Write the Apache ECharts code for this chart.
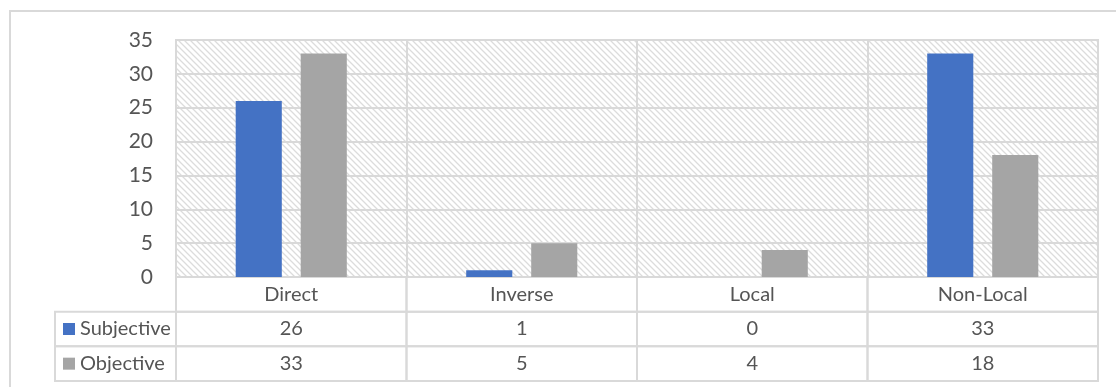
<!DOCTYPE html>
<html>
<head>
<meta charset="utf-8">
<script src="https://cdn.jsdelivr.net/npm/echarts@6/dist/echarts.min.js"></script>
<style>
  html, body { margin: 0; padding: 0; background: #ffffff; }
  #chart { width: 1116px; height: 387px; }
</style>
</head>
<body>
<div id="chart"></div>
<script>
// Chart data
const categories = ['Direct', 'Inverse', 'Local', 'Non-Local'];
const seriesNames = ['Subjective', 'Objective'];
const subjective = [26, 1, 0, 33];
const objective = [33, 5, 4, 18];
const yTicks = [0, 5, 10, 15, 20, 25, 30, 35];

const seriesColors = ['#4472C4', '#A5A5A5'];
const seriesValues = [subjective, objective];
const lineColor = '#d9d9d9';
const textColor = '#555555';
const fontFamily = 'Lato, "Open Sans", sans-serif';

// Diagonal hatch tile for the plot background
function hatchTile() {
  const c = document.createElement('canvas');
  const s = 6;
  c.width = s; c.height = s;
  const ctx = c.getContext('2d');
  ctx.fillStyle = '#ffffff';
  ctx.fillRect(0, 0, s, s);
  ctx.strokeStyle = '#dcdcdc';
  ctx.lineWidth = 1.3;
  ctx.beginPath();
  ctx.moveTo(-1, -1); ctx.lineTo(s + 1, s + 1);
  ctx.moveTo(-1 - s, -1); ctx.lineTo(1, s + 1);
  ctx.moveTo(s - 1, -1); ctx.lineTo(2 * s + 1, s + 1);
  ctx.stroke();
  return c;
}

// Table cells: header row with category names, then one row per series
const tableCells = [];
categories.forEach((name, i) => {
  tableCells.push([i, 0, name]);
  seriesValues.forEach((vals, s) => tableCells.push([i, s + 1, String(vals[i])]));
});
const legendCells = seriesNames.map((name, s) => [0, s + 1, name, s]);

const tableLeft = 55;

const chart = echarts.init(document.getElementById('chart'), null, { renderer: 'canvas' });

chart.setOption({
  animation: false,
  backgroundColor: '#ffffff',
  graphic: [{
    type: 'rect',
    shape: { x: 10, y: 11, width: 1200, height: 500 },
    style: { fill: 'none', stroke: lineColor, lineWidth: 2 },
    silent: true,
    z: -10
  }],
  grid: [
    {
      left: 176, top: 40, width: 922, height: 237,
      show: true,
      backgroundColor: { image: hatchTile(), repeat: 'repeat' },
      borderColor: lineColor,
      borderWidth: 2
    },
    { left: 176, top: 277, width: 922, height: 104 }
  ],
  xAxis: [
    {
      gridIndex: 0,
      type: 'category',
      data: categories,
      axisLine: { show: false },
      axisTick: { show: false },
      axisLabel: { show: false },
      splitLine: { show: true, lineStyle: { color: lineColor, width: 2 } }
    },
    {
      gridIndex: 1,
      type: 'category',
      data: categories,
      show: false
    }
  ],
  yAxis: [
    {
      gridIndex: 0,
      type: 'value',
      min: yTicks[0],
      max: yTicks[yTicks.length - 1],
      interval: yTicks[1] - yTicks[0],
      axisLine: { show: false },
      axisTick: { show: false },
      axisLabel: { color: textColor, fontSize: 21, fontFamily: fontFamily, margin: 23 },
      splitLine: { show: true, lineStyle: { color: lineColor, width: 2 } }
    },
    {
      gridIndex: 1,
      type: 'category',
      data: ['', ...seriesNames],
      inverse: true,
      show: false
    }
  ],
  series: [
    {
      name: seriesNames[0],
      type: 'bar',
      xAxisIndex: 0, yAxisIndex: 0,
      data: subjective,
      itemStyle: { color: seriesColors[0] },
      barWidth: '20%',
      barGap: '41%'
    },
    {
      name: seriesNames[1],
      type: 'bar',
      xAxisIndex: 0, yAxisIndex: 0,
      data: objective,
      itemStyle: { color: seriesColors[1] },
      barWidth: '20%',
      barGap: '41%'
    },
    {
      // Data table cells under the plot
      type: 'custom',
      xAxisIndex: 1, yAxisIndex: 1,
      data: tableCells,
      renderItem: function (params, api) {
        const c = api.coord([api.value(0), api.value(1)]);
        const size = api.size([1, 1]);
        const text = tableCells[params.dataIndex][2];
        return {
          type: 'group',
          children: [
            {
              type: 'rect',
              shape: { x: c[0] - size[0] / 2, y: c[1] - size[1] / 2, width: size[0], height: size[1] },
              style: { fill: 'none', stroke: lineColor, lineWidth: 2 }
            },
            {
              type: 'text',
              x: c[0], y: c[1],
              style: {
                text: text, fill: textColor, fontSize: 20, fontFamily: fontFamily,
                align: 'center', verticalAlign: 'middle'
              }
            }
          ]
        };
      }
    },
    {
      // Legend keys at the left of the series rows
      type: 'custom',
      xAxisIndex: 1, yAxisIndex: 1,
      data: legendCells,
      renderItem: function (params, api) {
        const c = api.coord([api.value(0), api.value(1)]);
        const size = api.size([1, 1]);
        const cell = legendCells[params.dataIndex];
        const right = c[0] - size[0] / 2;
        const top = c[1] - size[1] / 2;
        return {
          type: 'group',
          children: [
            {
              type: 'rect',
              shape: { x: tableLeft, y: top, width: right - tableLeft, height: size[1] },
              style: { fill: 'none', stroke: lineColor, lineWidth: 2 }
            },
            {
              type: 'rect',
              shape: { x: tableLeft + 8, y: c[1] - 6, width: 12, height: 12 },
              style: { fill: seriesColors[cell[3]] }
            },
            {
              type: 'text',
              x: tableLeft + 25, y: c[1],
              style: {
                text: cell[2], fill: textColor, fontSize: 20, fontFamily: fontFamily,
                align: 'left', verticalAlign: 'middle'
              }
            }
          ]
        };
      }
    }
  ]
});
</script>
</body>
</html>
